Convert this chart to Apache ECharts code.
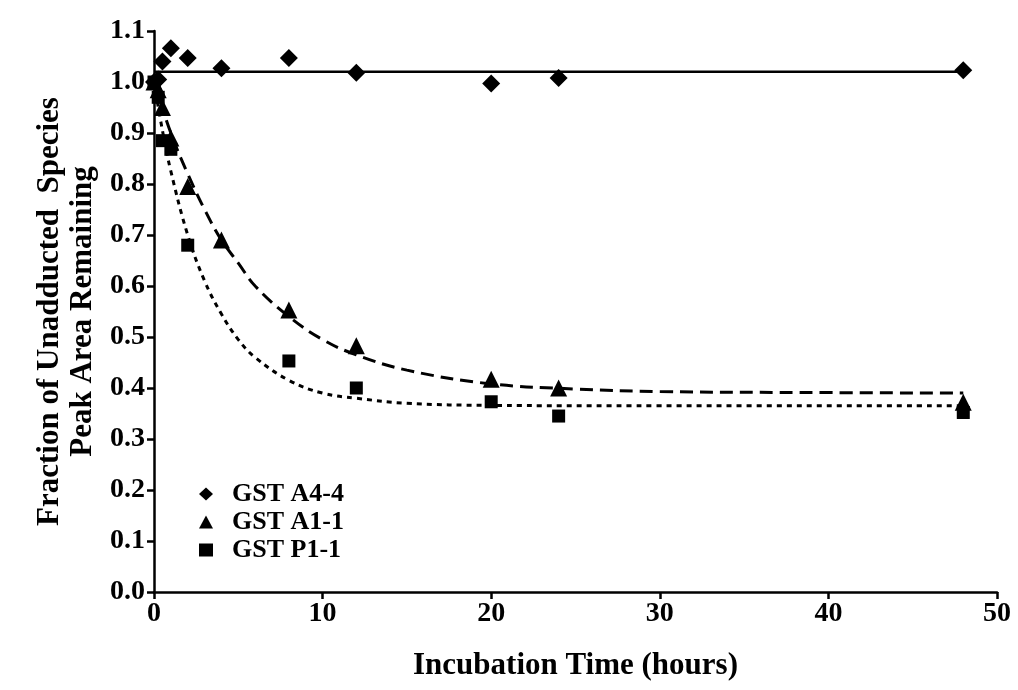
<!DOCTYPE html>
<html>
<head>
<meta charset="utf-8">
<script src="https://cdn.jsdelivr.net/npm/echarts@6/dist/echarts.min.js"></script>
<style>
html,body{margin:0;padding:0;background:#fff;}
#chart{width:1018px;height:690px;}
</style>
</head>
<body>
<div id="chart"></div>
<script>
// Measured data (incubation time in hours, fraction remaining)
const timesA44 = [0, 0.25, 0.5, 1, 2, 4, 8, 12, 20, 24, 48];
const valuesA44 = [1.0, 1.005, 1.04, 1.066, 1.047, 1.027, 1.047, 1.018, 0.997, 1.008, 1.023];

const timesA11 = [0, 0.25, 0.5, 1, 2, 4, 8, 12, 20, 24, 48];
const valuesA11 = [1.0, 0.985, 0.95, 0.89, 0.795, 0.69, 0.553, 0.483, 0.417, 0.40, 0.372];

const timesP11 = [0, 0.25, 0.5, 1, 2, 8, 12, 20, 24, 48];
const valuesP11 = [1.0, 0.97, 0.885, 0.868, 0.68, 0.453, 0.40, 0.373, 0.345, 0.352];

// Fitted curves
const fitTimesA44 = [0, 48];
const fitValuesA44 = [1.02, 1.02];

const fitTimesA11 = [0, 1, 2, 3, 4, 5, 6, 8, 10, 12, 15, 20, 25, 30, 40, 48];
const fitValuesA11 = [1.0, 0.90, 0.82, 0.75, 0.69, 0.645, 0.60, 0.54, 0.495, 0.465, 0.435, 0.408, 0.398, 0.393, 0.391, 0.39];

const fitTimesP11 = [0, 0.5, 1, 2, 3, 4, 5, 6, 8, 10, 12, 15, 20, 30, 48];
const fitValuesP11 = [1.0, 0.905, 0.825, 0.70, 0.61, 0.545, 0.495, 0.46, 0.415, 0.39, 0.38, 0.37, 0.366, 0.365, 0.365];

const xTicks = [0, 10, 20, 30, 40, 50];
const yTicks = [0.0, 0.1, 0.2, 0.3, 0.4, 0.5, 0.6, 0.7, 0.8, 0.9, 1.0, 1.1];

const seriesNames = ['GST A4-4', 'GST A1-1', 'GST P1-1'];

function pairs(xs, ys) { return xs.map((x, i) => [x, ys[i]]); }

const FONT = '"Liberation Serif", "Times New Roman", serif';

const chart = echarts.init(document.getElementById('chart'), null, {renderer: 'canvas'});

const axisCommon = {
  axisLine: {show: true, lineStyle: {color: '#000', width: 2.5}},
  axisTick: {show: true, inside: false, length: 7, lineStyle: {color: '#000', width: 2.5}},
  splitLine: {show: false},
  axisLabel: {color: '#000', fontFamily: FONT, fontWeight: 'bold', fontSize: 28},
  nameTextStyle: {color: '#000', fontFamily: FONT, fontWeight: 'bold', fontSize: 31}
};

chart.setOption({
  animation: false,
  backgroundColor: '#fff',
  grid: {left: 154, right: 21, top: 31, bottom: 98, containLabel: false},
  legend: {
    data: seriesNames,
    orient: 'vertical',
    left: 194,
    top: 475,
    itemGap: 0,
    itemWidth: 14,
    itemHeight: 13,
    textStyle: {color: '#000', fontFamily: FONT, fontWeight: 'bold', fontSize: 26, lineHeight: 28, padding: [0, 0, 0, 14]}
  },
  xAxis: Object.assign({}, axisCommon, {
    type: 'value',
    min: xTicks[0],
    max: xTicks[xTicks.length - 1],
    interval: 10,
    name: 'Incubation Time (hours)',
    nameLocation: 'middle',
    nameGap: 58,
    axisLabel: Object.assign({}, axisCommon.axisLabel, {margin: 8})
  }),
  yAxis: Object.assign({}, axisCommon, {
    type: 'value',
    min: yTicks[0],
    max: yTicks[yTicks.length - 1],
    interval: 0.1,
    name: 'Fraction of Unadducted  Species\nPeak Area Remaining',
    nameLocation: 'middle',
    nameRotate: 90,
    nameGap: 52,
    nameTextStyle: Object.assign({}, axisCommon.nameTextStyle, {lineHeight: 33}),
    axisLabel: Object.assign({}, axisCommon.axisLabel, {margin: 9, formatter: v => v.toFixed(1)})
  }),
  series: [
    {
      name: 'fit A4-4', type: 'line', data: pairs(fitTimesA44, fitValuesA44),
      showSymbol: false, silent: true,
      lineStyle: {color: '#000', width: 2.5, type: 'solid'}, z: 2
    },
    {
      name: 'fit A1-1', type: 'line', data: pairs(fitTimesA11, fitValuesA11),
      showSymbol: false, smooth: 0.4, silent: true,
      lineStyle: {color: '#000', width: 3, type: [13, 7]}, z: 2
    },
    {
      name: 'fit P1-1', type: 'line', data: pairs(fitTimesP11, fitValuesP11),
      showSymbol: false, smooth: 0.4, silent: true,
      lineStyle: {color: '#000', width: 3, type: [5, 5]}, z: 2
    },
    {
      name: seriesNames[0], type: 'scatter', data: pairs(timesA44, valuesA44),
      symbol: 'diamond', symbolSize: 18, itemStyle: {color: '#000', opacity: 1}, z: 3
    },
    {
      name: seriesNames[1], type: 'scatter', data: pairs(timesA11, valuesA11),
      symbol: 'triangle', symbolSize: 17, itemStyle: {color: '#000', opacity: 1}, z: 3
    },
    {
      name: seriesNames[2], type: 'scatter', data: pairs(timesP11, valuesP11),
      symbol: 'rect', symbolSize: 13, itemStyle: {color: '#000', opacity: 1}, z: 3
    }
  ]
});
</script>
</body>
</html>
